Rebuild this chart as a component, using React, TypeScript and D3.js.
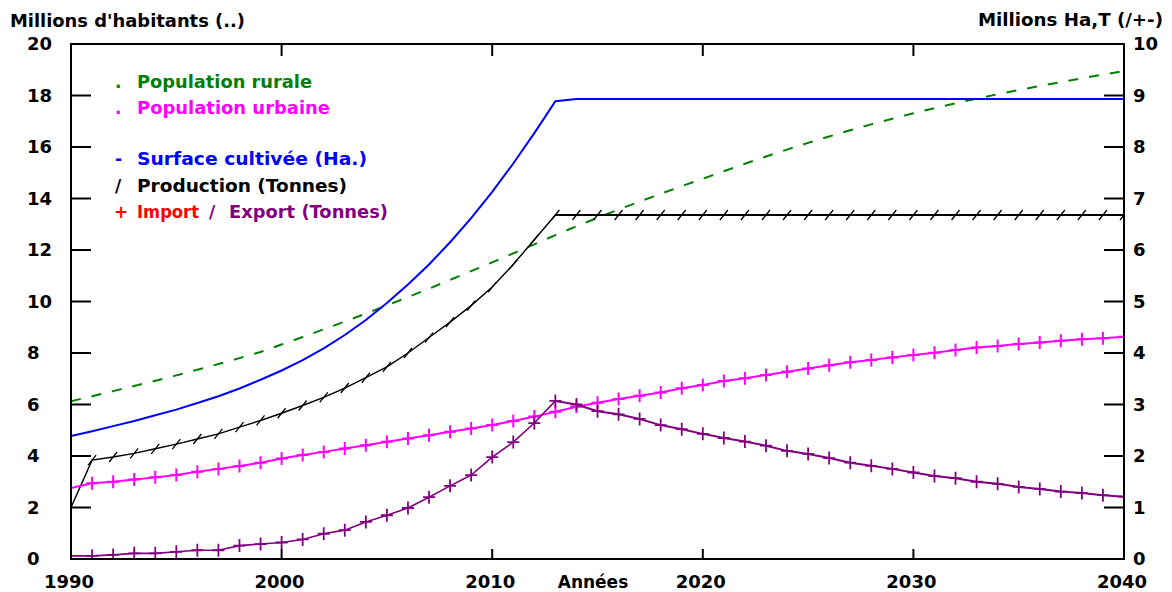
import React from "react";
import * as d3 from "d3";

const years = d3.range(1990, 2041);

// Left axis (millions of inhabitants)
const rural = [
  6.13, 6.32, 6.52, 6.72, 6.92, 7.13, 7.35, 7.57, 7.8, 8.04,
  8.33, 8.62, 8.92, 9.22, 9.53, 9.85, 10.17, 10.5, 10.84, 11.18,
  11.52, 11.87, 12.22, 12.58, 12.92, 13.25, 13.57, 13.88, 14.18, 14.48,
  14.77, 15.06, 15.35, 15.63, 15.9, 16.16, 16.41, 16.65, 16.88, 17.1,
  17.31, 17.51, 17.7, 17.88, 18.05, 18.21, 18.37, 18.52, 18.67, 18.81, 18.95,
];
const urban = [
  2.76, 2.94, 3.0, 3.09, 3.17, 3.26, 3.39, 3.5, 3.61, 3.74,
  3.9, 4.04, 4.16, 4.29, 4.42, 4.55, 4.68, 4.81, 4.94, 5.07,
  5.2, 5.36, 5.53, 5.72, 5.91, 6.07, 6.21, 6.34, 6.47, 6.63,
  6.76, 6.91, 7.02, 7.15, 7.27, 7.4, 7.52, 7.64, 7.73, 7.83,
  7.92, 8.01, 8.12, 8.21, 8.27, 8.35, 8.41, 8.48, 8.53, 8.57, 8.63,
];
// Right axis (millions Ha, T)
const surface = [
  2.39, 2.48, 2.58, 2.68, 2.79, 2.9, 3.03, 3.16, 3.31, 3.48,
  3.66, 3.86, 4.09, 4.35, 4.64, 4.97, 5.33, 5.72, 6.15, 6.62,
  7.13, 7.68, 8.27, 8.89, 8.93, 8.93, 8.93, 8.93, 8.93, 8.93,
  8.93, 8.93, 8.93, 8.93, 8.93, 8.93, 8.93, 8.93, 8.93, 8.93,
  8.93, 8.93, 8.93, 8.93, 8.93, 8.93, 8.93, 8.93, 8.93, 8.93, 8.93,
];
const production = [
  1.0, 1.92, 1.98, 2.05, 2.14, 2.23, 2.33, 2.43, 2.56, 2.69,
  2.83, 2.98, 3.14, 3.32, 3.52, 3.73, 4.0, 4.3, 4.6, 4.92,
  5.28, 5.72, 6.2, 6.68, 6.68, 6.68, 6.68, 6.68, 6.68, 6.68,
  6.68, 6.68, 6.68, 6.68, 6.68, 6.68, 6.68, 6.68, 6.68, 6.68,
  6.68, 6.68, 6.68, 6.68, 6.68, 6.68, 6.68, 6.68, 6.68, 6.68, 6.68,
];
const exportT = [
  0.06, 0.06, 0.08, 0.11, 0.11, 0.14, 0.17, 0.17, 0.26, 0.29,
  0.32, 0.38, 0.49, 0.56, 0.72, 0.85, 0.99, 1.2, 1.42, 1.63,
  1.98, 2.27, 2.64, 3.07, 3.0, 2.87, 2.81, 2.72, 2.6, 2.52,
  2.43, 2.35, 2.28, 2.2, 2.1, 2.04, 1.96, 1.87, 1.81, 1.75,
  1.68, 1.61, 1.57, 1.5, 1.46, 1.4, 1.36, 1.31, 1.28, 1.24, 1.21,
];

const leftTicks = d3.range(0, 21, 2);
const rightTicks = d3.range(0, 11, 1);
const xTicks = [1990, 2000, 2010, 2020, 2030, 2040];
const innerXTicks = [2000, 2010, 2020, 2030];

const W = 1172;
const H = 592;
const L = 71, R = 1124, T = 44, B = 559;
const FONT = "'DejaVu Sans', sans-serif";

export default function App() {
  const x = d3.scaleLinear().domain([1990, 2040]).range([L, R]);
  const yL = d3.scaleLinear().domain([0, 20]).range([B, T]);
  const yR = d3.scaleLinear().domain([0, 10]).range([B, T]);

  const lineL = (vals: number[], from = 0, to = vals.length - 1) =>
    d3.line<number>().x((_, i) => x(years[i + from])).y((v) => yL(v))(vals.slice(from, to + 1)) || "";
  const lineR = (vals: number[], from = 0, to = vals.length - 1) =>
    d3.line<number>().x((_, i) => x(years[i + from])).y((v) => yR(v))(vals.slice(from, to + 1)) || "";

  const plus = (px: number, py: number) => `M${px - 6},${py}H${px + 6}M${px},${py - 6.5}V${py + 6.5}`;
  const slash = (px: number, py: number) => `M${px - 4},${py + 5}L${px + 4},${py - 5}`;

  const markYears = years.slice(1);
  const urbanMarks = markYears.map((yr, i) => plus(x(yr), yL(urban[i + 1]))).join("");
  const exportMarks = markYears.map((yr, i) => plus(x(yr), yR(exportT[i + 1]))).join("");
  const prodMarks = markYears.map((yr, i) => slash(x(yr), yR(production[i + 1]))).join("");

  const legend = [
    { m: ".", mc: "#008000", t: "Population rurale", c: "#008000", y: 88, w: 175 },
    { m: ".", mc: "#ff00ff", t: "Population urbaine", c: "#ff00ff", y: 114, w: 193 },
    { m: "-", mc: "#0000ff", t: "Surface cultivée (Ha.)", c: "#0000ff", y: 165, w: 230 },
    { m: "/", mc: "#000000", t: "Production (Tonnes)", c: "#000000", y: 192, w: 210 },
  ];

  return (
    <svg width={W} height={H} style={{ position: "absolute", left: 0, top: 0, background: "#fff" }} fontFamily={FONT} fontWeight="bold">
      <defs>
        <clipPath id="plot">
          <rect x={L} y={T - 10} width={R - L} height={B - T + 10} />
        </clipPath>
      </defs>
      <rect x={0} y={0} width={W} height={H} fill="#fff" />

      {/* titles */}
      <text x={10} y={27} fontSize={17} textLength={235} lengthAdjust="spacingAndGlyphs">Millions d'habitants (..)</text>
      <text x={978} y={26} fontSize={17} textLength={185} lengthAdjust="spacingAndGlyphs">Millions Ha,T (/+-)</text>

      {/* ticks */}
      <g stroke="#000" strokeWidth={2}>
        {leftTicks.map((t) => (
          <line key={"l" + t} x1={L} x2={L + 20} y1={yL(t)} y2={yL(t)} />
        ))}
        {rightTicks.map((t) => (
          <line key={"r" + t} x1={R - 20} x2={R} y1={yR(t)} y2={yR(t)} />
        ))}
        {innerXTicks.map((t) => (
          <g key={"x" + t}>
            <line x1={x(t)} x2={x(t)} y1={B} y2={B - 10} />
            <line x1={x(t)} x2={x(t)} y1={T} y2={T + 12} />
          </g>
        ))}
      </g>

      {/* tick labels */}
      <g fontSize={18}>
        {leftTicks.map((t) => (
          <text key={"lt" + t} x={27} y={yL(t)} dy="0.36em">{t}</text>
        ))}
        {rightTicks.map((t) => (
          <text key={"rt" + t} x={1133} y={yR(t)} dy="0.36em">{t}</text>
        ))}
        {xTicks.map((t) => (
          <text key={"xt" + t} x={x(t) - 2} y={588} textAnchor="middle">{t}</text>
        ))}
        <text x={593} y={588} textAnchor="middle" fontSize={17}>Années</text>
      </g>

      {/* legend */}
      <g fontSize={17}>
        {legend.map((d) => (
          <g key={d.t}>
            <text x={115} y={d.y} fill={d.mc}>{d.m}</text>
            <text x={137} y={d.y} fill={d.c} textLength={d.w} lengthAdjust="spacingAndGlyphs">{d.t}</text>
          </g>
        ))}
        <text x={114} y={218} fill="#ff0000">+</text>
        <text x={137} y={218} fill="#ff0000" textLength={62} lengthAdjust="spacingAndGlyphs">Import</text>
        <text x={209} y={218} fill="#800080">/</text>
        <text x={229} y={218} fill="#800080" textLength={159} lengthAdjust="spacingAndGlyphs">Export (Tonnes)</text>
      </g>

      {/* series */}
      <g clipPath="url(#plot)" fill="none">
        <path d={lineL(rural)} stroke="#008000" strokeWidth={2} strokeDasharray="10,11" />
        <path d={lineR(surface)} stroke="#0000ff" strokeWidth={2} />
        <path d={lineR(production, 0, 23)} stroke="#000" strokeWidth={1.4} />
        <path d={lineR(production, 23)} stroke="#000" strokeWidth={2} />
        <path d={prodMarks} stroke="#000" strokeWidth={1.3} />
        <path d={lineL(urban)} stroke="#ff00ff" strokeWidth={2} />
        <path d={urbanMarks} stroke="#ff00ff" strokeWidth={2} />
        <path d={lineR(exportT, 0, 23)} stroke="#800080" strokeWidth={1.6} />
        <path d={lineR(exportT, 23)} stroke="#800080" strokeWidth={2} />
        <path d={exportMarks} stroke="#800080" strokeWidth={1.8} />
      </g>

      {/* frame */}
      <rect x={L} y={T} width={R - L} height={B - T} fill="none" stroke="#000" strokeWidth={2} />
    </svg>
  );
}
